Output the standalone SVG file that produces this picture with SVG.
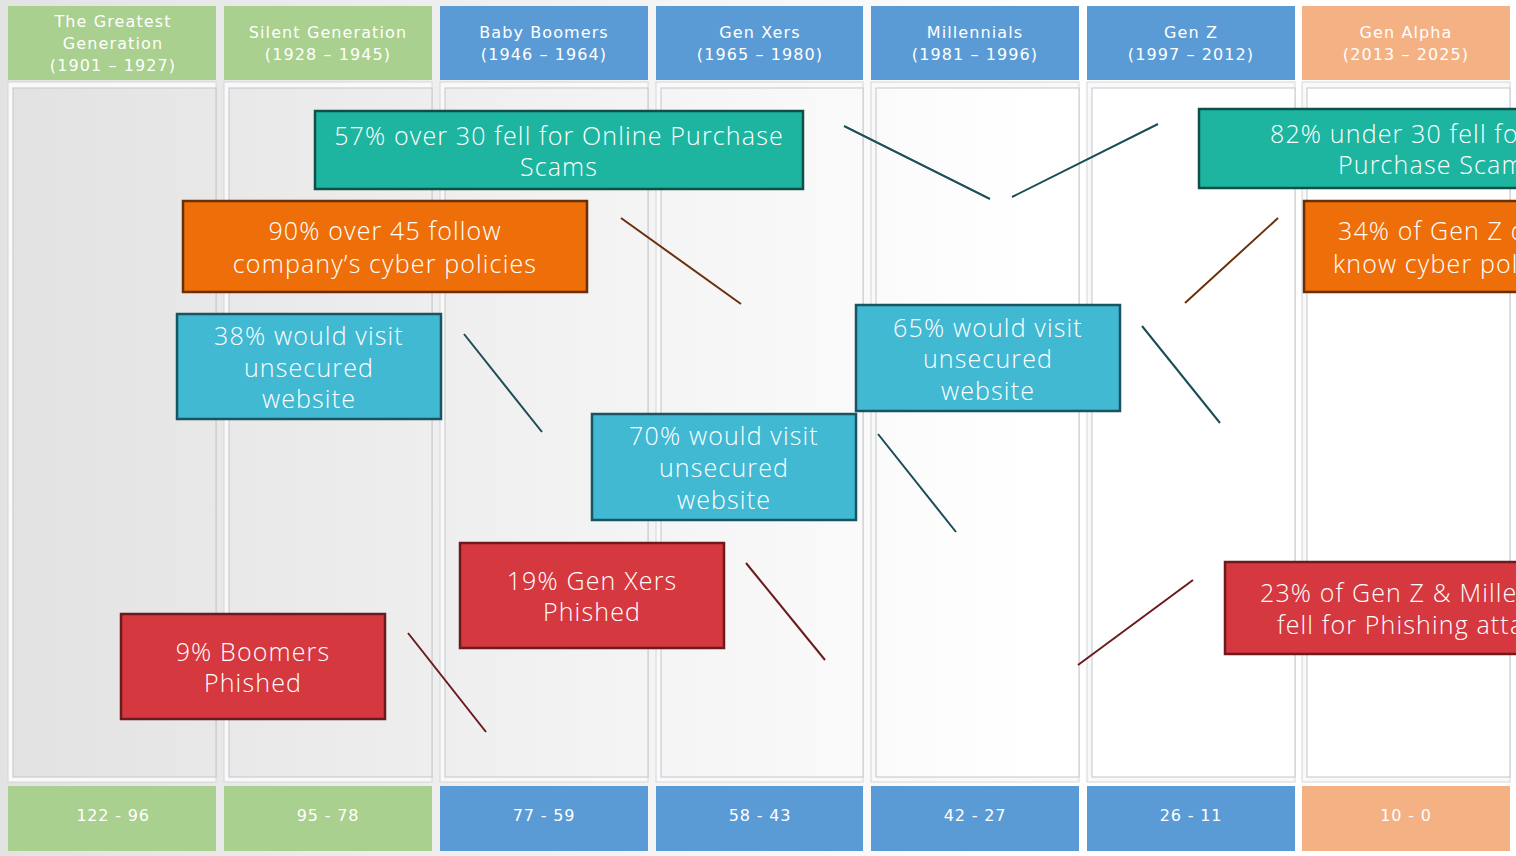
<svg xmlns="http://www.w3.org/2000/svg" width="1516" height="856" viewBox="0 0 1516 856">
<defs>
<linearGradient id="bg" gradientUnits="userSpaceOnUse" x1="0" y1="0" x2="1516" y2="0">
<stop offset="0" stop-color="#e3e3e3"/>
<stop offset="0.72" stop-color="#ffffff"/>
<stop offset="1" stop-color="#ffffff"/>
</linearGradient>
<linearGradient id="panel" gradientUnits="userSpaceOnUse" x1="0" y1="0" x2="1516" y2="0">
<stop offset="0" stop-color="#e2e2e2"/>
<stop offset="0.68" stop-color="#ffffff"/>
<stop offset="1" stop-color="#ffffff"/>
</linearGradient>
</defs>
<style>
.hdr{font-family:"DejaVu Sans","Open Sans",sans-serif;font-size:16px;fill:#ffffff;text-anchor:middle;letter-spacing:1.1px;}
.ftr{font-family:"DejaVu Sans","Open Sans",sans-serif;font-size:16px;fill:#ffffff;text-anchor:middle;letter-spacing:0.8px;}
.box{font-family:"Century Gothic","Open Sans","DejaVu Sans",sans-serif;font-size:25px;fill:#ffffff;text-anchor:middle;font-weight:300;letter-spacing:1.15px;}
.bs{text-anchor:start;}
.green{fill:#a9d08e;}
.blue{fill:#5b9bd5;}
.orange{fill:#f4b183;}
.frame{fill:#f8f9fb;stroke:#d4d6da;stroke-width:1;}
.inner{fill:url(#panel);stroke:#c6c6c6;stroke-width:1;}
.teal{fill:#1db5a0;stroke:#0e4f47;stroke-width:2.5;}
.org{fill:#ee6f0a;stroke:#6b2e06;stroke-width:2.5;}
.cyan{fill:#41b9d3;stroke:#1a5462;stroke-width:2.5;}
.red{fill:#d5383e;stroke:#6b1a1d;stroke-width:2.5;}
.lt{stroke:#1a4c55;stroke-width:2;fill:none;}
.lb{stroke:#6b300a;stroke-width:2;fill:none;}
.lr{stroke:#6b1a1d;stroke-width:2;fill:none;}
</style>
<rect x="0" y="0" width="1516" height="856" fill="url(#bg)"/>

<g id="columns">
<g id="col1">
<rect class="frame" x="8" y="82" width="208" height="700"/>
<rect class="inner" x="13" y="88" width="203" height="689"/>
<rect class="green" x="8" y="6" width="208" height="74"/>
<text class="hdr" x="113" y="27">The Greatest</text>
<text class="hdr" x="113" y="49">Generation</text>
<text class="hdr" x="113" y="71">(1901 – 1927)</text>
<rect class="green" x="8" y="786" width="208" height="65"/>
<text class="ftr" x="113" y="821">122 - 96</text>
</g>
<g id="col2">
<rect class="frame" x="224" y="82" width="208" height="700"/>
<rect class="inner" x="229" y="88" width="203" height="689"/>
<rect class="green" x="224" y="6" width="208" height="74"/>
<text class="hdr" x="328" y="38">Silent Generation</text>
<text class="hdr" x="328" y="60">(1928 – 1945)</text>
<rect class="green" x="224" y="786" width="208" height="65"/>
<text class="ftr" x="328" y="821">95 - 78</text>
</g>
<g id="col3">
<rect class="frame" x="440" y="82" width="208" height="700"/>
<rect class="inner" x="445" y="88" width="203" height="689"/>
<rect class="blue" x="440" y="6" width="208" height="74"/>
<text class="hdr" x="544" y="38">Baby Boomers</text>
<text class="hdr" x="544" y="60">(1946 – 1964)</text>
<rect class="blue" x="440" y="786" width="208" height="65"/>
<text class="ftr" x="544" y="821">77 - 59</text>
</g>
<g id="col4">
<rect class="frame" x="656" y="82" width="207" height="700"/>
<rect class="inner" x="661" y="88" width="202" height="689"/>
<rect class="blue" x="656" y="6" width="207" height="74"/>
<text class="hdr" x="760" y="38">Gen Xers</text>
<text class="hdr" x="760" y="60">(1965 – 1980)</text>
<rect class="blue" x="656" y="786" width="207" height="65"/>
<text class="ftr" x="760" y="821">58 - 43</text>
</g>
<g id="col5">
<rect class="frame" x="871" y="82" width="208" height="700"/>
<rect class="inner" x="876" y="88" width="203" height="689"/>
<rect class="blue" x="871" y="6" width="208" height="74"/>
<text class="hdr" x="975" y="38">Millennials</text>
<text class="hdr" x="975" y="60">(1981 – 1996)</text>
<rect class="blue" x="871" y="786" width="208" height="65"/>
<text class="ftr" x="975" y="821">42 - 27</text>
</g>
<g id="col6">
<rect class="frame" x="1087" y="82" width="208" height="700"/>
<rect class="inner" x="1092" y="88" width="203" height="689"/>
<rect class="blue" x="1087" y="6" width="208" height="74"/>
<text class="hdr" x="1191" y="38">Gen Z</text>
<text class="hdr" x="1191" y="60">(1997 – 2012)</text>
<rect class="blue" x="1087" y="786" width="208" height="65"/>
<text class="ftr" x="1191" y="821">26 - 11</text>
</g>
<g id="col7">
<rect class="frame" x="1302" y="82" width="208" height="700"/>
<rect class="inner" x="1307" y="88" width="203" height="689"/>
<rect class="orange" x="1302" y="6" width="208" height="74"/>
<text class="hdr" x="1406" y="38">Gen Alpha</text>
<text class="hdr" x="1406" y="60">(2013 – 2025)</text>
<rect class="orange" x="1302" y="786" width="208" height="65"/>
<text class="ftr" x="1406" y="821">10 - 0</text>
</g>
</g>

<g id="connectors">
<line class="lt" x1="844" y1="126" x2="990" y2="199"/>
<line class="lt" x1="1012" y1="197" x2="1158" y2="124"/>
<line class="lb" x1="621" y1="218" x2="741" y2="304"/>
<line class="lb" x1="1278" y1="218" x2="1185" y2="303"/>
<line class="lt" x1="464" y1="334" x2="542" y2="432"/>
<line class="lt" x1="1142" y1="326" x2="1220" y2="423"/>
<line class="lt" x1="878" y1="434" x2="956" y2="532"/>
<line class="lr" x1="746" y1="563" x2="825" y2="660"/>
<line class="lr" x1="408" y1="633" x2="486" y2="732"/>
<line class="lr" x1="1193" y1="580" x2="1078" y2="665"/>
</g>

<g id="n1">
<rect class="teal" x="315" y="111" width="488" height="78"/>
<text class="box" x="559" y="145">57% over 30 fell for Online Purchase</text>
<text class="box" x="559" y="176">Scams</text>
</g>
<g id="n2">
<rect class="org" x="183" y="201" width="404" height="91"/>
<text class="box" x="385" y="240">90% over 45 follow</text>
<text class="box" x="385" y="273">company’s cyber policies</text>
</g>
<g id="n3">
<rect class="cyan" x="177" y="314" width="264" height="105"/>
<text class="box" x="309" y="345">38% would visit</text>
<text class="box" x="309" y="377">unsecured</text>
<text class="box" x="309" y="408">website</text>
</g>
<g id="n4">
<rect class="cyan" x="592" y="414" width="264" height="106"/>
<text class="box" x="724" y="445">70% would visit</text>
<text class="box" x="724" y="477">unsecured</text>
<text class="box" x="724" y="509">website</text>
</g>
<g id="n5">
<rect class="cyan" x="856" y="305" width="264" height="106"/>
<text class="box" x="988" y="337">65% would visit</text>
<text class="box" x="988" y="368">unsecured</text>
<text class="box" x="988" y="400">website</text>
</g>
<g id="n6">
<rect class="red" x="121" y="614" width="264" height="105"/>
<text class="box" x="253" y="661">9% Boomers</text>
<text class="box" x="253" y="692">Phished</text>
</g>
<g id="n7">
<rect class="red" x="460" y="543" width="264" height="105"/>
<text class="box" x="592" y="590">19% Gen Xers</text>
<text class="box" x="592" y="621">Phished</text>
</g>
<g id="n8">
<rect class="teal" x="1199" y="109" width="488" height="79"/>
<text class="box bs" x="1270" y="143">82% under 30 fell for Online</text>
<text class="box bs" x="1338" y="174">Purchase Scams</text>
</g>
<g id="n9">
<rect class="org" x="1304" y="201" width="404" height="91"/>
<text class="box bs" x="1338" y="240">34% of Gen Z don’t</text>
<text class="box bs" x="1333" y="273">know cyber policies</text>
</g>
<g id="n10">
<rect class="red" x="1225" y="562" width="404" height="92"/>
<text class="box bs" x="1260" y="602">23% of Gen Z &amp; Millennials</text>
<text class="box bs" x="1277" y="634">fell for Phishing attacks</text>
</g>
</svg>
